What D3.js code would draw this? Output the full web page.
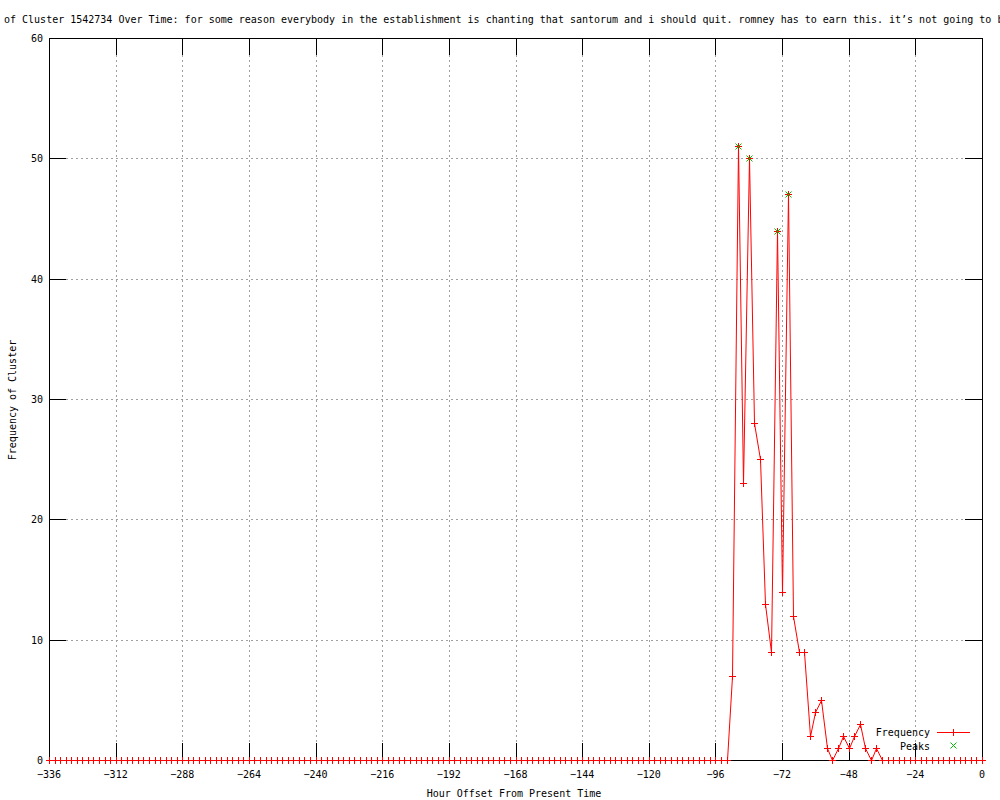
<!DOCTYPE html>
<html>
<head>
<meta charset="utf-8">
<script src="https://cdn.jsdelivr.net/npm/d3@7"></script>
<style>
  body { margin: 0; background: #fff; }
  text { font-family: "DejaVu Sans Mono", monospace; font-size: 10px; fill: #000; }
</style>
</head>
<body>
<div id="chart"></div>
<script>
// hours every 2h from -336 to 0, non-zero values only listed, rest are 0
var titleText = "of Cluster 1542734 Over Time: for some reason everybody in the establishment is chanting that santorum and i should quit. romney has to earn this. it\u2019s not going to b";
var xTicks = [-336, -312, -288, -264, -240, -216, -192, -168, -144, -120, -96, -72, -48, -24, 0];
var yTicks = [0, 10, 20, 30, 40, 50, 60];
var activeHours = [-90, -88, -86, -84, -82, -80, -78, -76, -74, -72, -70, -68, -66, -64, -62, -60, -58, -56, -54, -52, -50, -48, -46, -44, -42, -40, -38];
var activeFreq  = [  7,  51,  23,  50,  28,  25,  13,   9,  44,  14,  47,  12,   9,   9,   2,   4,   5,   1,   0,   1,   2,   1,   2,   3,   1,   0,   1];
var peakHours = [-88, -84, -74, -70];
var peakFreq  = [51, 50, 44, 47];

(function() {
  var data = d3.range(-336, 1, 2).map(function(hr) {
    var i = activeHours.indexOf(hr);
    return { hour: hr, freq: i >= 0 ? activeFreq[i] : 0 };
  });
  var peaks = peakHours.map(function(hr, i) { return { hour: hr, freq: peakFreq[i] }; });

  var w = 1000, h = 800;
  var pLeft = 49, pRight = 982, pTop = 38, pBottom = 760;
  var tickLen = 17;

  var svg = d3.select("#chart").append("svg")
    .attr("width", w)
    .attr("height", h);

  var x = d3.scaleLinear().domain([-336, 0]).range([pLeft, pRight]);
  var y = d3.scaleLinear().domain([0, 60]).range([pBottom, pTop]);

  function px(v) { return Math.round(v) + 0.5; }

  // grid
  var grid = svg.append("g").attr("class", "grid")
    .attr("stroke", "#a0a0a0").attr("stroke-dasharray", "2,3").attr("stroke-width", 1);
  grid.selectAll("line.gx")
    .data(xTicks.slice(1, -1))
    .enter().append("line")
    .attr("x1", function(d) { return px(x(d)); })
    .attr("x2", function(d) { return px(x(d)); })
    .attr("y1", pTop + tickLen).attr("y2", pBottom - tickLen);
  grid.selectAll("line.gy")
    .data(yTicks.slice(1, -1))
    .enter().append("line")
    .attr("y1", function(d) { return px(y(d)); })
    .attr("y2", function(d) { return px(y(d)); })
    .attr("x1", pLeft + tickLen).attr("x2", pRight - tickLen);

  // data line
  var line = d3.line()
    .x(function(d) { return px(x(d.hour)); })
    .y(function(d) { return px(y(d.freq)); });

  svg.append("path")
    .datum(data)
    .attr("fill", "none")
    .attr("stroke", "#ff0000")
    .attr("stroke-width", 1)
    .attr("d", line);

  // gnuplot style ticks (inward, both sides)
  var ticks = svg.append("g").attr("stroke", "#000").attr("stroke-width", 1);
  xTicks.forEach(function(t) {
    ticks.append("line").attr("x1", px(x(t))).attr("x2", px(x(t))).attr("y1", pBottom).attr("y2", pBottom - tickLen);
    ticks.append("line").attr("x1", px(x(t))).attr("x2", px(x(t))).attr("y1", pTop).attr("y2", pTop + tickLen);
  });
  yTicks.forEach(function(t) {
    ticks.append("line").attr("y1", px(y(t))).attr("y2", px(y(t))).attr("x1", pLeft).attr("x2", pLeft + tickLen);
    ticks.append("line").attr("y1", px(y(t))).attr("y2", px(y(t))).attr("x1", pRight).attr("x2", pRight - tickLen);
  });

  // border
  svg.append("rect")
    .attr("x", px(pLeft)).attr("y", px(pTop))
    .attr("width", pRight - pLeft)
    .attr("height", pBottom - pTop)
    .attr("fill", "none").attr("stroke", "#000").attr("stroke-width", 1);

  // point markers
  function plus(g, cx, cy, r) {
    g.append("line").attr("x1", cx - r).attr("x2", cx + r).attr("y1", cy).attr("y2", cy);
    g.append("line").attr("x1", cx).attr("x2", cx).attr("y1", cy - r).attr("y2", cy + r);
  }
  function cross(g, cx, cy, r) {
    g.append("line").attr("x1", cx - r).attr("x2", cx + r).attr("y1", cy - r).attr("y2", cy + r);
    g.append("line").attr("x1", cx - r).attr("x2", cx + r).attr("y1", cy + r).attr("y2", cy - r);
  }

  var pts = svg.append("g").attr("stroke", "#ff0000").attr("stroke-width", 1);
  data.forEach(function(d) { plus(pts, px(x(d.hour)), px(y(d.freq)), 3.5); });

  var pk = svg.append("g").attr("stroke", "#00c000").attr("stroke-width", 1);
  peaks.forEach(function(d) { cross(pk, px(x(d.hour)), px(y(d.freq)), 3); });

  // tick labels
  svg.append("g").selectAll("text")
    .data(xTicks)
    .enter().append("text")
    .attr("x", function(d) { return x(d); })
    .attr("y", 778)
    .attr("text-anchor", "middle")
    .text(function(d) { return d === 0 ? "0" : "\u2212" + Math.abs(d); });

  svg.append("g").selectAll("text")
    .data(yTicks)
    .enter().append("text")
    .attr("x", 43)
    .attr("y", function(d) { return y(d) + 4; })
    .attr("text-anchor", "end")
    .text(function(d) { return d; });

  // title and axis labels
  svg.append("text").attr("x", 4).attr("y", 23).text(titleText);
  svg.append("text").attr("x", 514).attr("y", 797).attr("text-anchor", "middle").text("Hour Offset From Present Time");
  svg.append("text")
    .attr("transform", "translate(16,400) rotate(-90)")
    .attr("text-anchor", "middle")
    .text("Frequency of Cluster");

  // legend
  svg.append("text").attr("x", 930).attr("y", 736).attr("text-anchor", "end").text("Frequency");
  svg.append("text").attr("x", 930).attr("y", 750).attr("text-anchor", "end").text("Peaks");
  var leg = svg.append("g").attr("stroke", "#ff0000").attr("stroke-width", 1);
  leg.append("line").attr("x1", 937).attr("x2", 970).attr("y1", 732.5).attr("y2", 732.5);
  plus(leg, 953.5, 732.5, 3.5);
  var leg2 = svg.append("g").attr("stroke", "#00c000").attr("stroke-width", 1);
  cross(leg2, 953.5, 745.5, 3);
})();
</script>
</body>
</html>
